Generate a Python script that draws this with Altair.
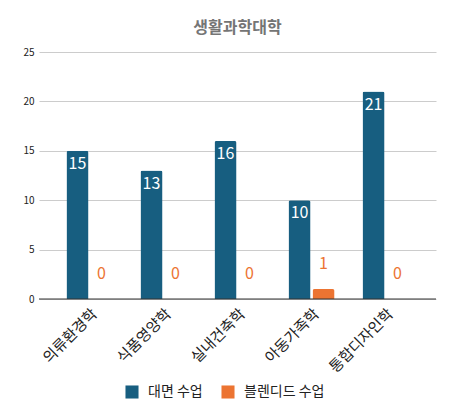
import pandas as pd
import altair as alt

majors = ["의류환경학", "식품영양학", "실내건축학", "아동가족학", "통합디자인학"]
face_to_face = [15, 13, 16, 10, 21]
blended = [0, 0, 0, 1, 0]
series = ["대면 수업", "블렌디드 수업"]
colors = ["#175e80", "#ec7432"]

FONT = "Noto Sans CJK KR"

rows = []
for m, a, b in zip(majors, face_to_face, blended):
    rows.append({"major": m, "type": series[0], "count": a})
    rows.append({"major": m, "type": series[1], "count": b})
df = pd.DataFrame(rows)

x_enc = alt.X("major:N", sort=majors, title=None,
              scale=alt.Scale(paddingInner=0.378, paddingOuter=0.371),
              axis=alt.Axis(labelAngle=-45, labelFontSize=15, labelColor="#222",
                            labelFont=FONT, ticks=False, domain=False,
                            labelPadding=7))
off_enc = alt.XOffset("type:N", sort=series,
                      scale=alt.Scale(paddingInner=0.083, paddingOuter=0))
y_enc = alt.Y("count:Q", title=None,
              scale=alt.Scale(domain=[0, 25], nice=False),
              axis=alt.Axis(values=[0, 5, 10, 15, 20, 25], labelFontSize=10,
                            labelColor="#222", labelFont=FONT, ticks=False,
                            domain=False, gridColor="#cccccc", labelPadding=5))

base = alt.Chart(df)

bars = base.mark_bar(cornerRadiusTopLeft=2, cornerRadiusTopRight=2).encode(
    x=x_enc,
    xOffset=off_enc,
    y=y_enc,
    color=alt.Color("type:N", sort=series, title=None,
                    scale=alt.Scale(domain=series, range=colors),
                    legend=alt.Legend(orient="none", direction="horizontal",
                                      legendX=86, legendY=333,
                                      symbolType="square", symbolSize=170,
                                      symbolStrokeWidth=0, labelFontSize=14,
                                      labelColor="#222", labelFont=FONT,
                                      labelOffset=9, columnPadding=18)),
)

inner = base.transform_filter(alt.datum.type == series[0]).mark_text(
    baseline="top", dy=5, fontSize=16, color="white", font=FONT
).encode(x=x_enc, xOffset=off_enc, y=y_enc, text="count:Q")

outer = base.transform_filter(alt.datum.type == series[1]).mark_text(
    baseline="middle", dy=-25, fontSize=16, color="#ec7432", font=FONT
).encode(x=x_enc, xOffset=off_enc, y=y_enc, text="count:Q")

baseline = alt.Chart(pd.DataFrame({"v": [0]})).mark_rule(
    color="#333", strokeWidth=1
).encode(y=alt.Y("v:Q"))

chart = alt.layer(bars, inner, outer, baseline).properties(
    width=397,
    height=247,
    autosize=alt.AutoSizeParams(type="none"),
    padding={"left": 31, "top": 44, "right": 12, "bottom": 115},
    title=alt.Title("생활과학대학", fontSize=16, fontWeight="bold",
                    color="#757575", font=FONT, anchor="middle", offset=11),
).configure_view(stroke=None)

chart.save("out.html", embed_options={"renderer": "svg", "actions": False})
